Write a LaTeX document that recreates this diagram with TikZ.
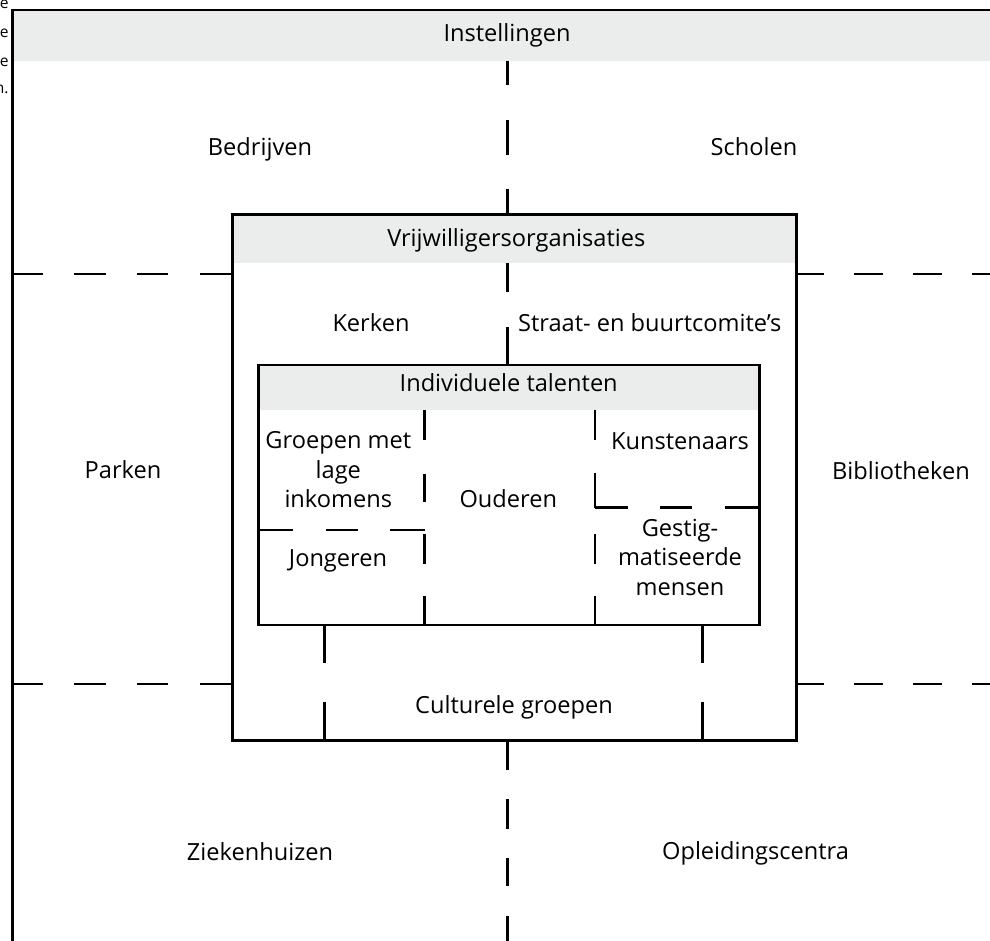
\documentclass[tikz,border=0pt]{standalone}
\usepackage{fontspec}
\setmainfont{Open Sans}
\definecolor{hdr}{RGB}{235,236,236}
\begin{document}
\begin{tikzpicture}[x=0.5pt,y=-0.5pt,
  frame/.style={line width=1.25pt,line join=miter},
  divider/.style={line width=1.25pt},
  lbl/.style={inner sep=0pt,anchor=base,align=center,font=\fontsize{11.8}{14.75}\selectfont},
  cut/.style={inner sep=0pt,anchor=base east,font=\fontsize{7.8}{9}\selectfont}]
\useasboundingbox (0,0) rectangle (990,941);
\begin{scope}
\clip (0,0) rectangle (990,941);
% corners
\coordinate (oNW) at (12.5,10);
\coordinate (vNW) at (232.3,214.5);
\coordinate (vSE) at (796.7,740.5);
\coordinate (iNW) at (258.5,364.8);
\coordinate (iSE) at (759.3,625);
% header bands
\fill[hdr] (oNW) rectangle (1010,61);
\fill[white] (vNW) rectangle (vSE);
\fill[hdr] (vNW) rectangle (796.7,262.7);
\fill[white] (iNW) rectangle (iSE);
\fill[hdr] (iNW) rectangle (759.3,409.5);
% dividers
\foreach \a/\b in {61/85,120/155,189/214,263/292,327/365,741/770,799/829,858/886,916/960}
  \draw[divider] (507.5,\a) -- (507.5,\b);
\foreach \a/\b in {12.5/43,74/106,137/168,200/232.3,796.7/824,854/883,913/942,972/1010}
  {\draw[divider] (\a,274) -- (\b,274);
   \draw[divider] (\a,684) -- (\b,684);}
\foreach \a/\b in {409.5/440,474/502,534/564,596/625}
  \draw[divider] (424.5,\a) -- (424.5,\b);
\foreach \a/\b in {409.5/440,473/508,534/564,596/625}
  \draw[divider] (595,\a) -- (595,\b);
\foreach \a/\b in {258.5/293,326/358,390/424.5}
  \draw[divider] (\a,530) -- (\b,530);
\foreach \a/\b in {595/628,660/692,725/759.3}
  \draw[divider] (\a,507.7) -- (\b,507.7);
\foreach \a/\b in {625/663,702/740.5}
  {\draw[divider] (324.5,\a) -- (324.5,\b);
   \draw[divider] (702.5,\a) -- (702.5,\b);}
% frames
\draw[frame] (12.5,960) -- (oNW) -- (1010,10);
\draw[frame] (vNW) rectangle (vSE);
\draw[frame] (iNW) rectangle (iSE);
% cut-off caption text at the far left
\node[cut] (c1) at (9,8.5) {e};
\node[cut] (c2) at (9,38) {e};
\node[cut] (c3) at (9,67) {e};
\node[cut] (c4) at (9,94) {n.};
\end{scope}
% labels
\node[lbl] (inst) at (507,42) {Instellingen};
\node[lbl] (bedr) at (260,155.7) {Bedrijven};
\node[lbl] (schol) at (754,155.7) {Scholen};
\node[lbl] (vrij) at (516.3,246.7) {Vrijwilligersorganisaties};
\node[lbl] (kerk) at (371,331.7) {Kerken};
\node[lbl,anchor=base west] (straat) at (517.7,331.5) {Straat- en buurtcomite’s};
\node[lbl] (indiv) at (508.7,391.7) {Individuele talenten};
\node[lbl] (park) at (123,478.3) {Parken};
\node[lbl] (bibl) at (901,479.3) {Bibliotheken};
\node[lbl] (groep) at (338.3,507.7) {Groepen met\\lage\\inkomens};
\node[lbl] (oud) at (508.3,507.7) {Ouderen};
\node[lbl] (kunst) at (680,449) {Kunstenaars};
\node[lbl] (jong) at (338,566.7) {Jongeren};
\node[lbl] (gestig) at (680,595) {Gestig-\\matiseerde\\mensen};
\node[lbl] (cult) at (514,713.3) {Culturele groepen};
\node[lbl] (zieken) at (260,860) {Ziekenhuizen};
\node[lbl] (oplei) at (755.5,859.3) {Opleidingscentra};
\end{tikzpicture}
\end{document}
